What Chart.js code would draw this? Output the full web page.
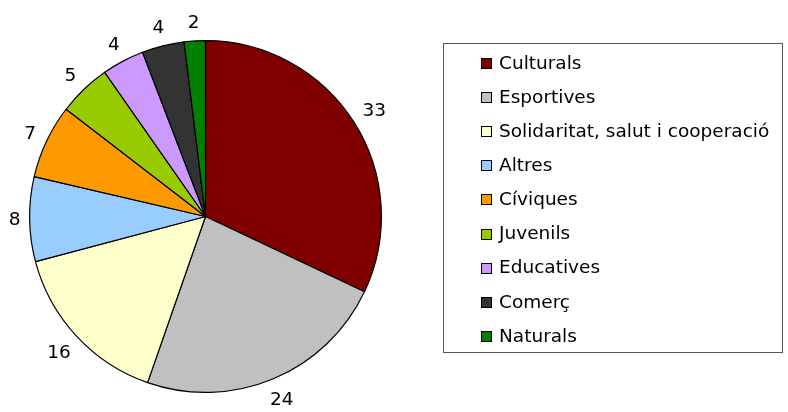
<!DOCTYPE html>
<html>
<head>
<meta charset="utf-8">
<script src="https://cdn.jsdelivr.net/npm/chart.js@4"></script>
<style>
  html, body { margin: 0; padding: 0; background: #fff; }
  #wrap { width: 788px; height: 412px; }
</style>
</head>
<body>
<div id="wrap"><canvas id="pieChart" width="788" height="412"></canvas></div>
<script>
// Associacions per tipus
const categories = ['Culturals', 'Esportives', 'Solidaritat, salut i cooperació', 'Altres',
  'Cíviques', 'Juvenils', 'Educatives', 'Comerç', 'Naturals'];
const values = [33, 24, 16, 8, 7, 5, 4, 4, 2];
const colors = ['#800000', '#C0C0C0', '#FFFFCC', '#99CCFF', '#FF9900', '#99CC00', '#CC99FF', '#333333', '#008000'];

const FONT = '18.5px "DejaVu Sans", Verdana, sans-serif';

// value labels outside each slice (nearest edge of the text box a few px off the rim)
const outsideLabels = {
  id: 'outsideLabels',
  afterDatasetsDraw(chart) {
    const c = chart.ctx;
    const meta = chart.getDatasetMeta(0);
    c.save();
    c.font = FONT;
    c.fillStyle = '#000';
    c.textAlign = 'center';
    c.textBaseline = 'middle';
    meta.data.forEach((arc, i) => {
      const txt = String(values[i]);
      const mid = (arc.startAngle + arc.endAngle) / 2;
      const hw = c.measureText(txt).width / 2, hh = 9;
      const d = arc.outerRadius + 9 + Math.abs(Math.cos(mid)) * hw + Math.abs(Math.sin(mid)) * hh;
      c.fillText(txt, arc.x + Math.cos(mid) * d, arc.y + Math.sin(mid) * d + 1);
    });
    c.restore();
  }
};

// boxed legend on the right
const boxLegend = {
  id: 'boxLegend',
  afterDraw(chart) {
    const c = chart.ctx;
    const x0 = 443.5, y0 = 43.5, w = 339, h = 309;
    c.save();
    c.strokeStyle = '#555';
    c.lineWidth = 1;
    c.strokeRect(x0, y0, w, h);
    c.font = FONT;
    c.textBaseline = 'middle';
    categories.forEach((label, i) => {
      const cy = 63 + i * 34.1;
      c.fillStyle = colors[i];
      c.fillRect(481, Math.round(cy) - 5, 11, 11);
      c.strokeStyle = '#000';
      c.strokeRect(481.5, Math.round(cy) - 4.5, 10, 10);
      c.fillStyle = '#000';
      c.fillText(label, 499, cy + 1);
    });
    c.restore();
  }
};

new Chart(document.getElementById('pieChart').getContext('2d'), {
  type: 'pie',
  data: {
    labels: categories,
    datasets: [{
      data: values,
      backgroundColor: colors,
      borderColor: '#000',
      borderWidth: 1.2
    }]
  },
  options: {
    responsive: false,
    animation: false,
    layout: { padding: { left: 29, right: 406, top: 40, bottom: 19 } },
    plugins: {
      legend: { display: false },
      tooltip: { enabled: false }
    }
  },
  plugins: [outsideLabels, boxLegend]
});
</script>
</body>
</html>
